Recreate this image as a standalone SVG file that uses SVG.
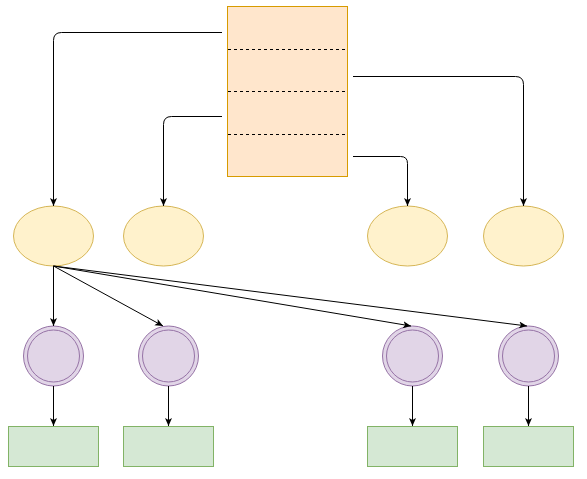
<svg xmlns="http://www.w3.org/2000/svg" width="587" height="479" viewBox="0 0 587 479">
<defs>
<marker id="arr" markerUnits="userSpaceOnUse" viewBox="0 0 8 8" markerWidth="8" markerHeight="8" refX="8" refY="4" orient="auto">
<path d="M8,4 L0,0.5 L2,4 L0,7.5 Z" fill="#000"/>
</marker>
</defs>
<style>
.edge{fill:none;stroke:#000;stroke-width:1;marker-end:url(#arr)}
.mem{fill:#ffe6cc;stroke:#d79b00;stroke-width:1}
.div{stroke:#000;stroke-width:1;stroke-dasharray:3 3}
.ell{fill:#fff2cc;stroke:#d6b656;stroke-width:1}
.cir{fill:#e1d5e7;stroke:#9673a6;stroke-width:1}
.box{fill:#d5e8d4;stroke:#82b366;stroke-width:1}
</style>
<rect width="587" height="479" fill="#fff"/>
<g id="memory">
<rect class="mem" x="227.5" y="6.5" width="120" height="170"/>
<line class="div" x1="228" y1="49.5" x2="346" y2="49.5"/>
<line class="div" x1="228" y1="91.5" x2="346" y2="91.5"/>
<line class="div" x1="228" y1="134.5" x2="346" y2="134.5"/>
</g>
<g id="e1"><ellipse class="ell" cx="53.5" cy="236" rx="40" ry="30"/></g>
<g id="e2"><ellipse class="ell" cx="163.5" cy="236" rx="40" ry="30"/></g>
<g id="e3"><ellipse class="ell" cx="407.5" cy="236" rx="40" ry="30"/></g>
<g id="e4"><ellipse class="ell" cx="523.5" cy="236" rx="40" ry="30"/></g>
<g id="c1"><circle class="cir" cx="53.5" cy="356" r="30"/><circle class="cir" cx="53.5" cy="356" r="26"/></g>
<g id="c2"><circle class="cir" cx="168.5" cy="356" r="30"/><circle class="cir" cx="168.5" cy="356" r="26"/></g>
<g id="c3"><circle class="cir" cx="412.5" cy="356" r="30"/><circle class="cir" cx="412.5" cy="356" r="26"/></g>
<g id="c4"><circle class="cir" cx="528.5" cy="356" r="30"/><circle class="cir" cx="528.5" cy="356" r="26"/></g>
<g id="r1"><rect class="box" x="8.5" y="426.5" width="90" height="40"/></g>
<g id="r2"><rect class="box" x="123.5" y="426.5" width="90" height="40"/></g>
<g id="r3"><rect class="box" x="367.5" y="426.5" width="90" height="40"/></g>
<g id="r4"><rect class="box" x="483.5" y="426.5" width="90" height="40"/></g>
<g id="connectors">
<path class="edge" d="M222,32.5 L61.5,32.5 Q53.5,32.5 53.5,40.5 L53.5,206"/>
<path class="edge" d="M222,116.5 L171.5,116.5 Q163.5,116.5 163.5,124.5 L163.5,206"/>
<path class="edge" d="M353,76.5 L515.5,76.5 Q523.5,76.5 523.5,84.5 L523.5,206"/>
<path class="edge" d="M353,156.5 L400.5,156.5 Q407.5,156.5 407.5,163.5 L407.5,206"/>
<path class="edge" d="M53.5,266 L53.5,326"/>
<path class="edge" d="M53.5,266 L163,326"/>
<path class="edge" d="M53.5,266 L411,326"/>
<path class="edge" d="M53.5,266 L527,326"/>
<path class="edge" d="M53.5,386 L53.5,426"/>
<path class="edge" d="M168.5,386 L168.5,426"/>
<path class="edge" d="M412.5,386 L412.5,426"/>
<path class="edge" d="M528.5,386 L528.5,426"/>
</g>
</svg>
